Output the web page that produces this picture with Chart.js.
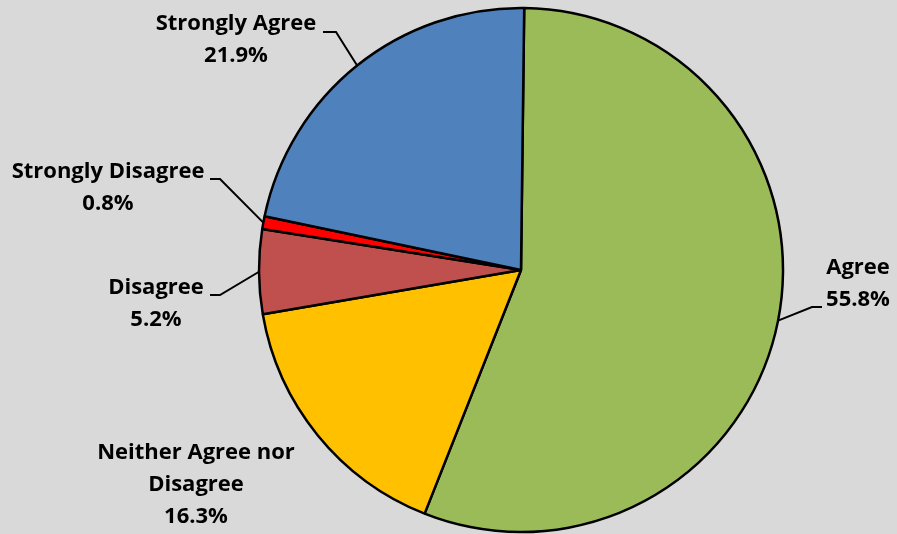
<!DOCTYPE html>
<html>
  <head>
    <title>Survey Responses</title>
    <script src="https://cdn.jsdelivr.net/npm/chart.js"></script>
    <style>
      html, body { margin: 0; padding: 0; background: #d9d9d9; }
      #wrap { width: 897px; height: 534px; }
    </style>
  </head>
  <body>
    <div id="wrap"><canvas id="surveyChart" width="897" height="534"></canvas></div>

    <script>
      const categories = ['Agree', 'Neither Agree nor Disagree', 'Disagree', 'Strongly Disagree', 'Strongly Agree'];
      const shares = [55.8, 16.3, 5.2, 0.8, 21.9];
      const sliceColors = ['#9bbb59', '#ffc000', '#c0504d', '#ff0000', '#4f81bd'];

      // label placement: text lines, text centre x, first line y, optional leader (elbow + end)
      const labelLayout = [
        { lines: ['Agree', '55.8%'], x: 858, y: 268, elbow: [812, 307], end: [822, 307] },
        { lines: ['Neither Agree nor', 'Disagree', '16.3%'], x: 196, y: 453 },
        { lines: ['Disagree', '5.2%'], x: 156, y: 288, elbow: [220, 295], end: [210, 295] },
        { lines: ['Strongly Disagree', '0.8%'], x: 108, y: 172, elbow: [220, 179], end: [210, 179] },
        { lines: ['Strongly Agree', '21.9%'], x: 236, y: 24, elbow: [336, 32], end: [323, 32] },
      ];

      const pieLabels = {
        id: 'pieLabels',
        afterDraw(chart) {
          const ctx = chart.ctx;
          const meta = chart.getDatasetMeta(0);
          ctx.save();
          meta.data.forEach((arc, i) => {
            const lay = labelLayout[i];
            const p = arc.getProps(['x', 'y', 'startAngle', 'endAngle', 'outerRadius'], true);
            const mid = (p.startAngle + p.endAngle) / 2;
            if (lay.elbow) {
              ctx.beginPath();
              ctx.moveTo(p.x + Math.cos(mid) * p.outerRadius, p.y + Math.sin(mid) * p.outerRadius);
              ctx.lineTo(lay.elbow[0], lay.elbow[1]);
              ctx.lineTo(lay.end[0], lay.end[1]);
              ctx.strokeStyle = '#000';
              ctx.lineWidth = 2;
              ctx.stroke();
            }
            ctx.fillStyle = '#000';
            ctx.font = 'bold 22px "Open Sans"';
            ctx.textAlign = 'center';
            ctx.textBaseline = 'middle';
            lay.lines.forEach((t, j) => ctx.fillText(t, lay.x, lay.y + j * 32));
          });
          ctx.restore();
        },
      };

      new Chart(document.getElementById('surveyChart'), {
        type: 'pie',
        data: {
          labels: categories,
          datasets: [
            {
              data: shares,
              backgroundColor: sliceColors,
              borderColor: '#000',
              borderWidth: 2.5,
            },
          ],
        },
        options: {
          responsive: false,
          animation: false,
          rotation: 0.7,
          radius: 262,
          layout: { padding: { left: 145, right: 0, top: 6, bottom: 0 } },
          plugins: {
            legend: { display: false },
            tooltip: { enabled: false },
          },
        },
        plugins: [pieLabels],
      });
    </script>
  </body>
</html>
